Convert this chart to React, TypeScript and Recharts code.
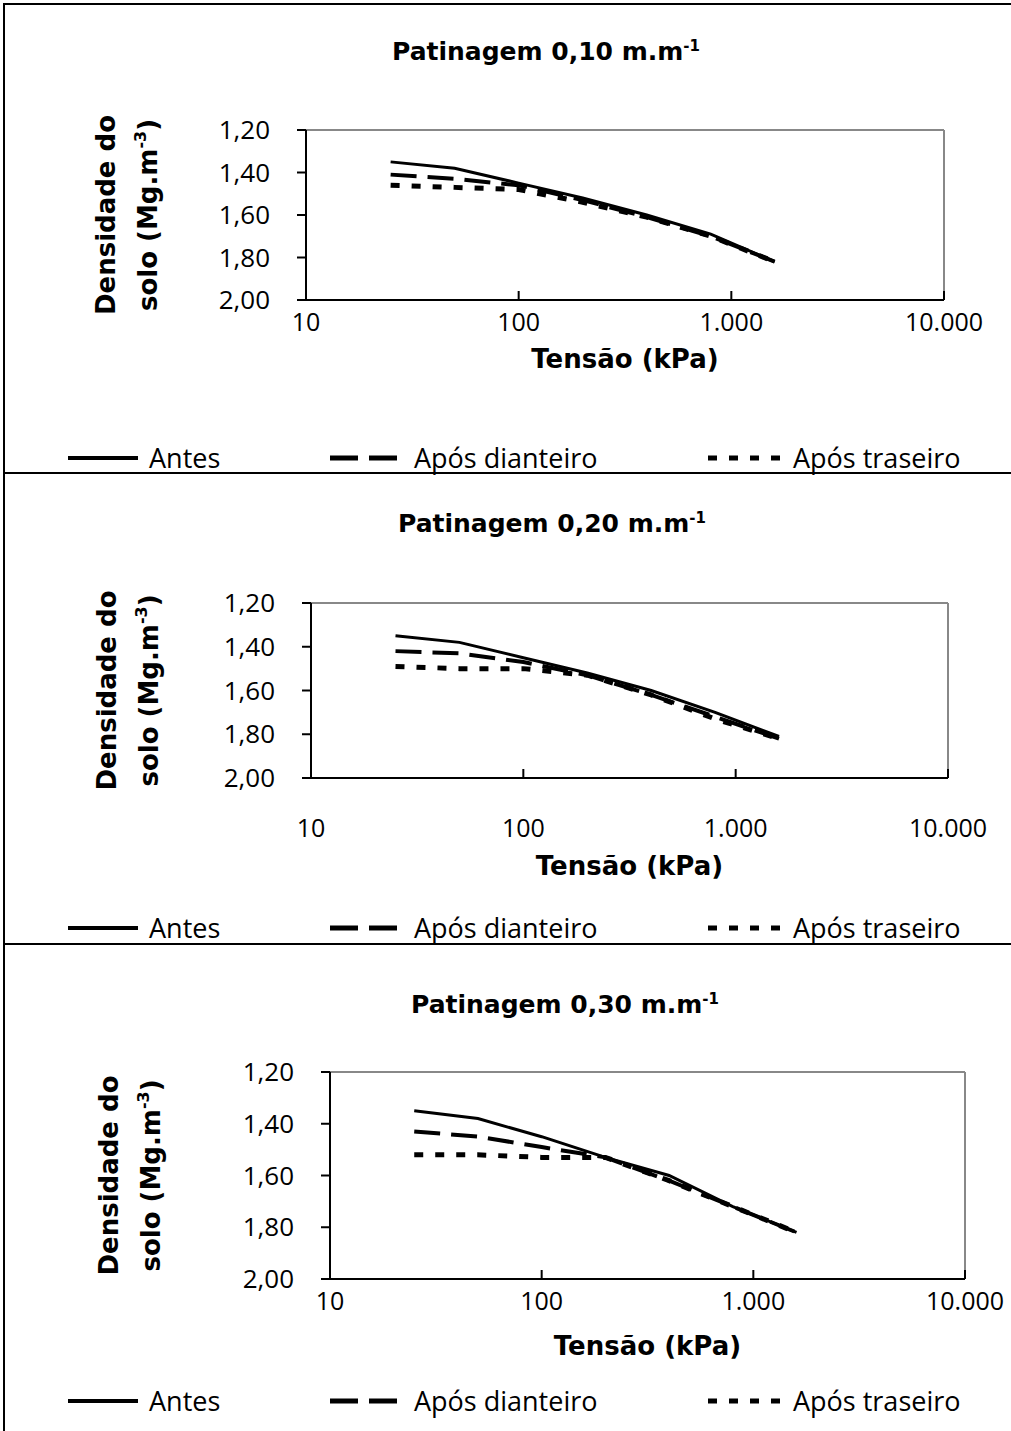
import React from 'react';
import { LineChart, Line, XAxis, YAxis, ReferenceLine } from 'recharts';

// tensão aplicada (kPa)
const tensao = [25, 50, 100, 200, 400, 800, 1600];

// densidade do solo (Mg.m-3) - patinagem 0,10
const antes10 = [1.35, 1.38, 1.45, 1.52, 1.6, 1.69, 1.82];
const dianteiro10 = [1.41, 1.43, 1.46, 1.53, 1.61, 1.7, 1.82];
const traseiro10 = [1.46, 1.47, 1.48, 1.54, 1.61, 1.7, 1.82];

// patinagem 0,20
const antes20 = [1.35, 1.38, 1.45, 1.52, 1.6, 1.7, 1.81];
const dianteiro20 = [1.42, 1.43, 1.47, 1.53, 1.62, 1.72, 1.82];
const traseiro20 = [1.49, 1.5, 1.5, 1.53, 1.62, 1.73, 1.82];

// patinagem 0,30
const antes30 = [1.35, 1.38, 1.45, 1.53, 1.6, 1.72, 1.82];
const dianteiro30 = [1.43, 1.45, 1.49, 1.53, 1.62, 1.72, 1.82];
const traseiro30 = [1.52, 1.52, 1.53, 1.53, 1.62, 1.72, 1.82];

const xTicks = [10, 100, 1000, 10000];
const yTicks = [1.2, 1.4, 1.6, 1.8, 2.0];
const seriesNames = ['Antes', 'Após dianteiro', 'Após traseiro'];
const patinagens = ['0,10', '0,20', '0,30'];

const W = 1011;
const REG = '"Open Sans", sans-serif';
const BOLD = '"DejaVu Sans", sans-serif';

const fmtX = (v: number) => v.toLocaleString('pt-BR');
const fmtY = (v: number) => v.toFixed(2).replace('.', ',');

type Panel = {
  top: number;
  bottom: number;
  plot: { l: number; r: number; t: number; b: number };
  titleY: number;
  titleX: number;
  xTickGap: number;
  xTitleY: number;
  yLabelX: number;
  legendY: number;
};

const panels: Panel[] = [
  { top: 3, bottom: 472, plot: { l: 306, r: 944, t: 130, b: 300 }, titleY: 52, titleX: 546, xTickGap: 22, xTitleY: 359, yLabelX: 106, legendY: 458 },
  { top: 472, bottom: 943, plot: { l: 311, r: 948, t: 603, b: 778 }, titleY: 524, titleX: 552, xTickGap: 50, xTitleY: 866, yLabelX: 107, legendY: 928 },
  { top: 943, bottom: 1440, plot: { l: 330, r: 965, t: 1072, b: 1279 }, titleY: 1005, titleX: 565, xTickGap: 22, xTitleY: 1346, yLabelX: 109, legendY: 1401 },
];

const seriesData = [
  [antes10, dianteiro10, traseiro10],
  [antes20, dianteiro20, traseiro20],
  [antes30, dianteiro30, traseiro30],
];

const styles = [
  { dash: undefined, width: 3 },
  { dash: '26 11', width: 4 },
  { dash: '9 12', width: 5 },
];

const legendItems = [
  { x1: 68, x2: 138, tx: 149, dash: undefined, w: 4 },
  { x1: 330, x2: 406, tx: 414, dash: '28 11', w: 5 },
  { x1: 708, x2: 792, tx: 793, dash: '9 12', w: 5 },
];

const XTick = (props: any) => {
  const { x, y, payload, gap } = props;
  return (
    <g>
      <line x1={x} x2={x} y1={y} y2={y - 9} stroke="#000" strokeWidth={2} />
      <text x={x} y={y + gap} dy="0.355em" textAnchor="middle" fontSize={25} fontFamily={REG} fill="#000">
        {fmtX(payload.value)}
      </text>
    </g>
  );
};

const ChartLegend = ({ top }: { top: number }) => (
  <div style={{ position: 'absolute', left: 0, top, width: W, height: 34 }}>
    {legendItems.map((p, i) => (
      <div key={i}>
        <svg style={{ position: 'absolute', left: p.x1, top: 13 }} width={p.x2 - p.x1} height={8}>
          <line x1={0} x2={p.x2 - p.x1} y1={4} y2={4} stroke="#000" strokeWidth={p.w} strokeDasharray={p.dash} />
        </svg>
        <span style={{ position: 'absolute', left: p.tx, top: 0, fontFamily: REG, fontSize: 27, lineHeight: '34px', color: '#000', whiteSpace: 'nowrap' }}>
          {seriesNames[i]}
        </span>
      </div>
    ))}
  </div>
);

const PanelChart = ({ p, idx }: { p: Panel; idx: number }) => {
  const h = p.bottom - p.top;
  const [a, d, t] = seriesData[idx];
  const data = tensao.map((s, i) => ({ tensao: s, antes: a[i], dianteiro: d[i], traseiro: t[i] }));
  const yAxisW = 120;
  const xAxisH = 40;
  const margin = {
    top: p.plot.t - p.top,
    left: p.plot.l - yAxisW,
    right: W - p.plot.r,
    bottom: p.bottom - p.plot.b - xAxisH,
  };
  const plotCx = (p.plot.l + p.plot.r) / 2;
  const plotCy = (p.plot.t + p.plot.b) / 2 - p.top;
  return (
    <div style={{ position: 'absolute', left: 0, top: p.top, width: W, height: h }}>
      <div style={{ position: 'absolute', left: 3, top: 0, width: W, height: h - 2, borderLeft: '2px solid #000', borderTop: '2px solid #000', borderBottom: idx < 2 ? '2px solid #000' : 'none' }} />
      <div style={{ position: 'absolute', left: p.titleX, top: p.titleY - p.top - 17, transform: 'translateX(-50%)', whiteSpace: 'nowrap', fontFamily: BOLD, fontWeight: 'bold', fontSize: 25, lineHeight: '34px' }}>
        Patinagem {patinagens[idx]} m.m<sup style={{ fontSize: 15, verticalAlign: 'top', lineHeight: '22px' }}>-1</sup>
      </div>
      <LineChart width={W} height={h} data={data} margin={margin} style={{ position: 'absolute', left: 0, top: 0 }}>
        <XAxis
          dataKey="tensao"
          type="number"
          scale="log"
          domain={[10, 10000]}
          ticks={xTicks}
          allowDataOverflow
          height={xAxisH}
          tickSize={0}
          tickMargin={0}
          tickLine={false}
          axisLine={{ stroke: '#000', strokeWidth: 2 }}
          tick={<XTick gap={p.xTickGap} />}
          label={{
            content: () => (
              <text x={plotCx} y={p.xTitleY - p.top} dy="0.355em" textAnchor="middle" fontFamily={BOLD} fontWeight="bold" fontSize={26} fill="#000">
                Tensão (kPa)
              </text>
            ),
          }}
        />
        <YAxis
          type="number"
          domain={[1.2, 2.0]}
          reversed
          ticks={yTicks}
          interval={0}
          width={yAxisW}
          tickSize={9}
          tickMargin={27}
          tickFormatter={fmtY}
          tickLine={{ stroke: '#000', strokeWidth: 2 }}
          axisLine={{ stroke: '#000', strokeWidth: 2 }}
          tick={{ fontFamily: REG, fontSize: 26, fill: '#000' }}
          label={{
            content: () => (
              <g fontFamily={BOLD} fontWeight="bold" fontSize={26} fill="#000">
                <text x={p.yLabelX} y={plotCy} dy="0.355em" textAnchor="middle" transform={`rotate(-90, ${p.yLabelX}, ${plotCy})`}>
                  Densidade do
                </text>
                <text x={p.yLabelX + 42} y={plotCy} dy="0.355em" textAnchor="middle" transform={`rotate(-90, ${p.yLabelX + 42}, ${plotCy})`}>
                  solo (Mg.m<tspan fontSize={16} dy={-11}>-3</tspan><tspan dy={11}>)</tspan>
                </text>
              </g>
            ),
          }}
        />
        <ReferenceLine y={1.2} stroke="#888" strokeWidth={2} />
        <ReferenceLine x={10000} stroke="#888" strokeWidth={2} />
        <Line dataKey="antes" name={seriesNames[0]} stroke="#000" strokeWidth={styles[0].width} dot={false} isAnimationActive={false} />
        <Line dataKey="dianteiro" name={seriesNames[1]} stroke="#000" strokeWidth={styles[1].width} strokeDasharray={styles[1].dash} dot={false} isAnimationActive={false} />
        <Line dataKey="traseiro" name={seriesNames[2]} stroke="#000" strokeWidth={styles[2].width} strokeDasharray={styles[2].dash} dot={false} isAnimationActive={false} />
      </LineChart>
      <ChartLegend top={p.legendY - p.top - 17} />
    </div>
  );
};

export default function App() {
  return (
    <div style={{ position: 'relative', width: W, height: 1431, background: '#fff', overflow: 'hidden' }}>
      <style>{'body{margin:0}'}</style>
      {panels.map((p, i) => (
        <PanelChart key={i} p={p} idx={i} />
      ))}
    </div>
  );
}
